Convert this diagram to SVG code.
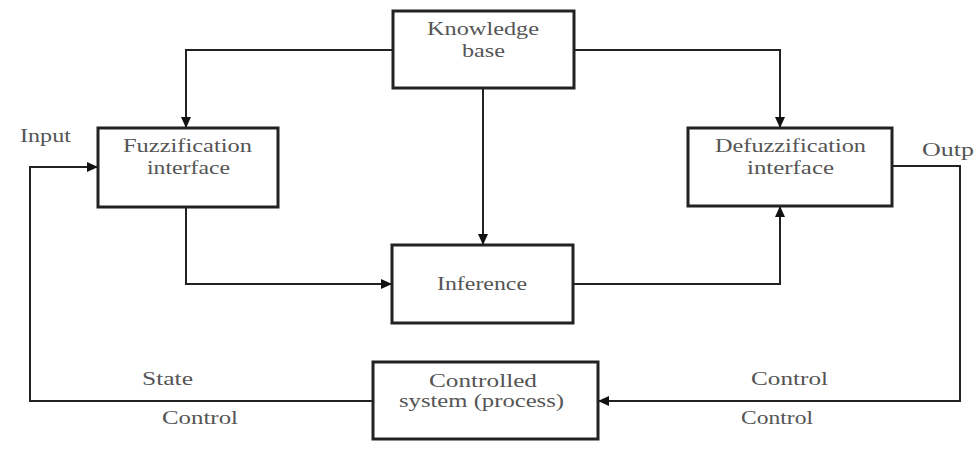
<svg xmlns="http://www.w3.org/2000/svg" width="974" height="451" viewBox="0 0 974 451">
<defs>
<marker id="ah" markerWidth="11" markerHeight="10" refX="10" refY="5" orient="auto" markerUnits="userSpaceOnUse">
<path d="M0,0 L11,5 L0,10 z" fill="#111"/>
</marker>
<style>
.box{fill:#fff;stroke:#222;stroke-width:3}
.ln{fill:none;stroke:#222;stroke-width:2}
text{font-family:"Liberation Serif","DejaVu Serif","Noto Serif",serif;font-size:18px;fill:#555}
</style>
</defs>
<rect width="974" height="451" fill="#fff"/>
<g id="connectors">
<path class="ln" d="M393,50 H186 V127" marker-end="url(#ah)"/>
<path class="ln" d="M574,50 H780 V127" marker-end="url(#ah)"/>
<path class="ln" d="M483,88 V244" marker-end="url(#ah)"/>
<path class="ln" d="M186,207 V284 H391" marker-end="url(#ah)"/>
<path class="ln" d="M573,284 H780 V207" marker-end="url(#ah)"/>
<path class="ln" d="M892,166 H960 V401 H599" marker-end="url(#ah)"/>
<path class="ln" d="M373,401 H30 V167 H97" marker-end="url(#ah)"/>
</g>
<g id="knowledge">
<rect class="box" x="393" y="11" width="181" height="77"/>
<text x="427" y="35" textLength="112" lengthAdjust="spacingAndGlyphs">Knowledge</text>
<text x="462" y="57" textLength="43" lengthAdjust="spacingAndGlyphs">base</text>
</g>
<g id="fuzzification">
<rect class="box" x="98" y="128" width="180" height="79"/>
<text x="123" y="152" textLength="129" lengthAdjust="spacingAndGlyphs">Fuzzification</text>
<text x="147" y="174" textLength="83" lengthAdjust="spacingAndGlyphs">interface</text>
</g>
<g id="defuzzification">
<rect class="box" x="688" y="128" width="204" height="78"/>
<text x="715" y="152" textLength="151" lengthAdjust="spacingAndGlyphs">Defuzzification</text>
<text x="747" y="174" textLength="87" lengthAdjust="spacingAndGlyphs">interface</text>
</g>
<g id="inference">
<rect class="box" x="392" y="245" width="181" height="78"/>
<text x="437" y="290" textLength="90" lengthAdjust="spacingAndGlyphs">Inference</text>
</g>
<g id="controlled">
<rect class="box" x="373" y="362" width="225" height="77"/>
<text x="429" y="387" textLength="108" lengthAdjust="spacingAndGlyphs">Controlled</text>
<text x="399" y="407" textLength="165" lengthAdjust="spacingAndGlyphs">system (process)</text>
</g>
<g id="labels">
<text x="20" y="142" textLength="51" lengthAdjust="spacingAndGlyphs">Input</text>
<text x="922" y="156" textLength="52" lengthAdjust="spacingAndGlyphs">Outp</text>
<text x="142" y="385" textLength="51" lengthAdjust="spacingAndGlyphs">State</text>
<text x="162" y="424" textLength="76" lengthAdjust="spacingAndGlyphs">Control</text>
<text x="751" y="385" textLength="77" lengthAdjust="spacingAndGlyphs">Control</text>
<text x="741" y="424" textLength="72" lengthAdjust="spacingAndGlyphs">Control</text>
</g>
</svg>
